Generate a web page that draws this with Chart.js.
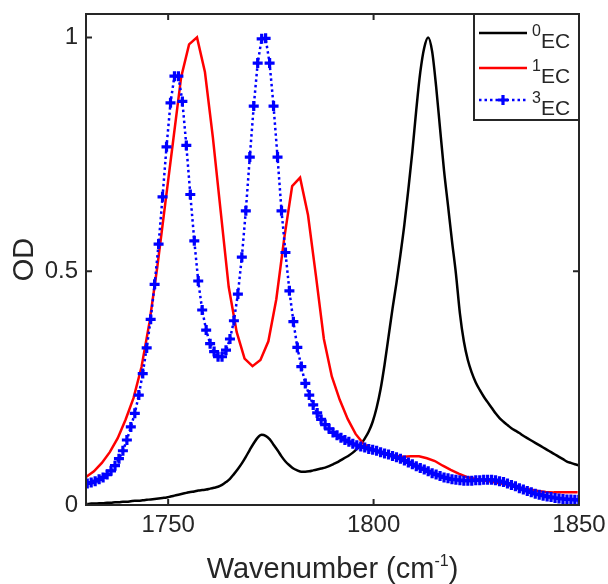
<!DOCTYPE html>
<html>
<head>
<meta charset="utf-8">
<script src="https://cdn.jsdelivr.net/npm/chart.js@4/dist/chart.umd.min.js"></script>
<style>
  html, body { margin: 0; padding: 0; background: #fff; }
</style>
</head>
<body>
<canvas id="spectra" width="608" height="584"></canvas>
<script>
// === IR spectra of 0EC / 1EC / 3EC (normalised OD) ===

// spectrometer grids (cm-1)
const fineStart = 1730.3, fineStep = 0.965, fineCount = 125;
const coarseStart = 1730, coarseStep = 1.93, coarseCount = 63;
const fineGrid = Array.from({ length: fineCount }, (_, i) => +(fineStart + i * fineStep).toFixed(2));
const coarseGrid = Array.from({ length: coarseCount }, (_, i) => +(coarseStart + i * coarseStep).toFixed(2));

const seriesLabels = ['0EC', '1EC', '3EC'];

const od0EC = [
  0.002, 0.003, 0.003, 0.004, 0.004, 0.005, 0.005, 0.006, 0.006, 0.007,
  0.007, 0.008, 0.009, 0.009, 0.010, 0.011, 0.012, 0.013, 0.014, 0.015,
  0.016, 0.018, 0.020, 0.022, 0.024, 0.026, 0.028, 0.029, 0.031, 0.032,
  0.033, 0.035, 0.037, 0.039, 0.043, 0.049, 0.056, 0.066, 0.077, 0.089,
  0.103, 0.118, 0.132, 0.144, 0.150, 0.148, 0.141, 0.129, 0.117, 0.104,
  0.093, 0.085, 0.078, 0.074, 0.071, 0.071, 0.072, 0.074, 0.076, 0.078,
  0.080, 0.083, 0.087, 0.091, 0.096, 0.101, 0.106, 0.112, 0.120, 0.130,
  0.142, 0.157, 0.178, 0.208, 0.248, 0.300, 0.360, 0.420, 0.475, 0.535,
  0.600, 0.675, 0.755, 0.845, 0.925, 0.978, 1.000, 0.970, 0.895, 0.805,
  0.715, 0.640, 0.565, 0.495, 0.410, 0.350, 0.310, 0.283, 0.262, 0.246,
  0.232, 0.220, 0.208, 0.196, 0.186, 0.178, 0.171, 0.164, 0.159, 0.154,
  0.148, 0.143, 0.138, 0.133, 0.128, 0.123, 0.118, 0.113, 0.108, 0.103,
  0.098, 0.093, 0.090, 0.087, 0.085
];

const od1EC = [
  0.060, 0.072, 0.090, 0.113, 0.143, 0.183, 0.229, 0.295, 0.390, 0.510,
  0.645, 0.780, 0.915, 0.985, 1.000, 0.926, 0.786, 0.626, 0.466, 0.370,
  0.313, 0.297, 0.310, 0.350, 0.440, 0.570, 0.682, 0.700, 0.620, 0.490,
  0.355, 0.275, 0.225, 0.184, 0.152, 0.131, 0.120, 0.114, 0.109, 0.105,
  0.103, 0.104, 0.104, 0.100, 0.094, 0.084, 0.075, 0.067, 0.060, 0.056,
  0.053, 0.050, 0.047, 0.044, 0.040, 0.036, 0.033, 0.030, 0.028, 0.027,
  0.027, 0.027, 0.027
];

const od3EC = [
  0.046, 0.048, 0.051, 0.055, 0.059, 0.065, 0.073, 0.084, 0.099, 0.116,
  0.139, 0.167, 0.196, 0.235, 0.281, 0.336, 0.397, 0.472, 0.558, 0.659,
  0.766, 0.860, 0.917, 0.917, 0.863, 0.769, 0.664, 0.565, 0.479, 0.417,
  0.374, 0.345, 0.328, 0.317, 0.317, 0.331, 0.355, 0.394, 0.451, 0.530,
  0.629, 0.744, 0.853, 0.945, 0.997, 0.998, 0.945, 0.853, 0.744, 0.629,
  0.540, 0.458, 0.392, 0.337, 0.296, 0.260, 0.235, 0.214, 0.197, 0.183,
  0.172, 0.163, 0.155, 0.149, 0.144, 0.139, 0.135, 0.131, 0.128, 0.125,
  0.123, 0.120, 0.118, 0.116, 0.113, 0.110, 0.108, 0.105, 0.102, 0.099,
  0.095, 0.091, 0.087, 0.083, 0.079, 0.076, 0.072, 0.068, 0.065, 0.062,
  0.059, 0.057, 0.055, 0.054, 0.053, 0.052, 0.052, 0.052, 0.053, 0.053,
  0.054, 0.054, 0.054, 0.053, 0.051, 0.049, 0.046, 0.043, 0.040, 0.036,
  0.033, 0.030, 0.027, 0.024, 0.022, 0.020, 0.018, 0.017, 0.015, 0.014,
  0.013, 0.012, 0.012, 0.011, 0.011
];

const xTicks = [1750, 1800, 1850];
const yTicks = [0, 0.5, 1];

const ink = '#262626';
const fontFamily = '"Liberation Sans", Arial, Helvetica, sans-serif';

const toPoints = (xs, ys) => ys.map((y, i) => ({ x: xs[i], y }));

// text with raised small pieces, e.g. cm^-1
function drawRich(ctx, parts, x, y, size, opts) {
  const supSize = Math.round(size * opts.supScale);
  const widths = parts.map(p => {
    ctx.font = `${p.sup ? supSize : size}px ${fontFamily}`;
    return ctx.measureText(p.text).width;
  });
  const total = widths.reduce((a, b) => a + b, 0);
  let cx = opts.align === 'center' ? x - total / 2 : x;
  ctx.textAlign = 'left';
  ctx.textBaseline = 'alphabetic';
  parts.forEach((p, i) => {
    ctx.font = `${p.sup ? supSize : size}px ${fontFamily}`;
    ctx.fillText(p.text, cx, p.sup ? y - size * opts.raise : y);
    cx += widths[i];
  });
}

// MATLAB-like box, inward ticks, titles and legend
const axesBox = {
  id: 'axesBox',
  afterDatasetsDraw(chart) {
    const { ctx, chartArea: a, scales } = chart;
    const tick = 6;
    ctx.save();
    ctx.strokeStyle = ink;
    ctx.lineWidth = 2;
    ctx.setLineDash([]);
    ctx.beginPath();
    xTicks.forEach(v => {
      const px = scales.x.getPixelForValue(v);
      ctx.moveTo(px, a.bottom); ctx.lineTo(px, a.bottom - tick);
      ctx.moveTo(px, a.top); ctx.lineTo(px, a.top + tick);
    });
    yTicks.forEach(v => {
      const py = scales.y.getPixelForValue(v);
      ctx.moveTo(a.left, py); ctx.lineTo(a.left + tick, py);
      ctx.moveTo(a.right, py); ctx.lineTo(a.right - tick, py);
    });
    ctx.stroke();
    ctx.strokeRect(a.left, a.top, a.right - a.left, a.bottom - a.top);

    // legend
    const box = { x: a.right - 105, y: a.top, w: 105, h: 106 };
    ctx.fillStyle = '#fff';
    ctx.fillRect(box.x, box.y, box.w, box.h);
    ctx.strokeRect(box.x, box.y, box.w, box.h);
    const rows = [19, 54, 86];
    chart.data.datasets.forEach((ds, i) => {
      const ly = box.y + rows[i];
      const x0 = box.x + 5, x1 = box.x + 53;
      ctx.strokeStyle = ds.borderColor;
      ctx.lineWidth = ds.borderWidth;
      ctx.setLineDash(ds.borderDash || []);
      ctx.beginPath();
      ctx.moveTo(x0, ly); ctx.lineTo(x1, ly);
      ctx.stroke();
      ctx.setLineDash([]);
      if (ds.pointRadius > 0) {
        const m = (x0 + x1) / 2, r = ds.pointRadius;
        ctx.lineWidth = ds.pointBorderWidth;
        ctx.beginPath();
        ctx.moveTo(m - r, ly); ctx.lineTo(m + r, ly);
        ctx.moveTo(m, ly - r); ctx.lineTo(m, ly + r);
        ctx.stroke();
      }
      ctx.fillStyle = ink;
      const lbl = seriesLabels[i];
      drawRich(ctx, [{ text: lbl[0], sup: true }, { text: lbl.slice(1) }], box.x + 58, ly + 15, 21,
        { supScale: 0.74, raise: 0.55, align: 'left' });
    });

    // axis titles
    ctx.fillStyle = ink;
    drawRich(ctx, [{ text: 'Wavenumber (cm' }, { text: '-1', sup: true }, { text: ')' }],
      (a.left + a.right) / 2, 578, 29, { supScale: 0.56, raise: 0.42, align: 'center' });
    ctx.save();
    ctx.translate(33, (a.top + a.bottom) / 2);
    ctx.rotate(-Math.PI / 2);
    ctx.font = `29px ${fontFamily}`;
    ctx.textAlign = 'center';
    ctx.textBaseline = 'alphabetic';
    ctx.fillText('OD', 0, 0);
    ctx.restore();
    ctx.restore();
  }
};

new Chart(document.getElementById('spectra'), {
  type: 'line',
  data: {
    datasets: [
      {
        label: seriesLabels[0],
        data: toPoints(fineGrid, od0EC),
        borderColor: '#000000',
        borderWidth: 2.5,
        pointRadius: 0,
        cubicInterpolationMode: 'monotone',
        order: 3
      },
      {
        label: seriesLabels[1],
        data: toPoints(coarseGrid, od1EC),
        borderColor: '#ff0000',
        borderWidth: 2.5,
        pointRadius: 0,
        tension: 0,
        order: 2
      },
      {
        label: seriesLabels[2],
        data: toPoints(fineGrid, od3EC),
        borderColor: '#0000ff',
        borderWidth: 2.5,
        borderDash: [2.5, 3],
        pointStyle: 'cross',
        pointRadius: 5,
        pointBorderWidth: 3.2,
        pointBorderColor: '#0000ff',
        pointBackgroundColor: '#0000ff',
        tension: 0,
        order: 1
      }
    ]
  },
  options: {
    responsive: false,
    animation: false,
    devicePixelRatio: 1,
    layout: { padding: { left: 0, right: 29, top: 14, bottom: 0 } },
    plugins: { legend: { display: false }, tooltip: { enabled: false } },
    scales: {
      x: {
        type: 'linear',
        min: 1730,
        max: 1850,
        grid: { display: false, drawTicks: false },
        border: { display: false },
        afterBuildTicks: s => { s.ticks = xTicks.map(v => ({ value: v })); },
        afterFit: s => { s.height = 79; s.paddingLeft = 0; s.paddingRight = 0; },
        ticks: {
          padding: 6, autoSkip: false, maxRotation: 0, color: ink,
          font: { family: fontFamily, size: 24 },
          callback: v => String(v)
        }
      },
      y: {
        min: 0,
        max: 1.05,
        grid: { display: false, drawTicks: false },
        border: { display: false },
        afterBuildTicks: s => { s.ticks = yTicks.map(v => ({ value: v })); },
        afterFit: s => { s.width = 86; s.paddingTop = 0; s.paddingBottom = 0; },
        ticks: {
          padding: 8, autoSkip: false, color: ink,
          font: { family: fontFamily, size: 24 },
          callback: v => String(v)
        }
      }
    }
  },
  plugins: [axesBox]
});
</script>
</body>
</html>
